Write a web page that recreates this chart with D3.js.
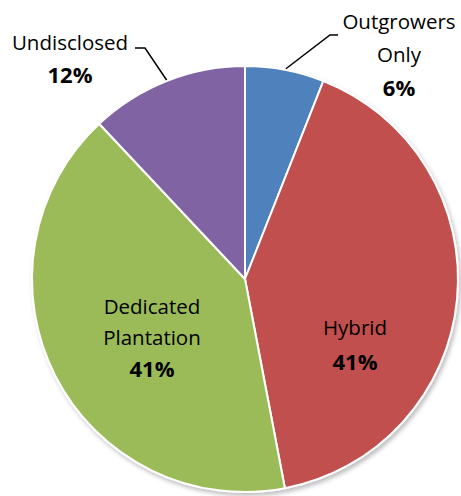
<!DOCTYPE html>
<html>
<head>
<meta charset="utf-8">
<script src="https://cdn.jsdelivr.net/npm/d3@7"></script>
<style>
  html, body { margin: 0; padding: 0; background: #fff; }
  svg { display: block; font-family: "Open Sans", "Noto Sans", sans-serif; }
</style>
</head>
<body>
<svg id="chart" width="461" height="496"></svg>
<script>
// Plantation model shares (percent), clockwise from 12 o'clock
const categories = ["Outgrowers Only", "Hybrid", "Dedicated Plantation", "Undisclosed"];
const values = [6, 41, 41, 12];
const colors = ["#4F81BD", "#C0504D", "#9BBB59", "#8064A2"];
const labelLines = [["Outgrowers", "Only"], ["Hybrid"], ["Dedicated", "Plantation"], ["Undisclosed"]];

const svg = d3.select("#chart");
const cx = 245, cy = 279, r = 213;

const defs = svg.append("defs");
const f = defs.append("filter").attr("id", "shadow")
  .attr("x", "-10%").attr("y", "-10%").attr("width", "120%").attr("height", "120%");
f.append("feDropShadow").attr("dx", 2).attr("dy", 3).attr("stdDeviation", 2)
  .attr("flood-color", "#000").attr("flood-opacity", 0.25);

const data = categories.map((c, i) => ({ name: c, value: values[i], color: colors[i], lines: labelLines[i] }));

const pie = d3.pie().sort(null).value(d => d.value);
const arcs = pie(data);
const arc = d3.arc().innerRadius(0).outerRadius(r);

const g = svg.append("g").attr("transform", `translate(${cx},${cy})`);

g.append("g").attr("filter", "url(#shadow)")
  .selectAll("path").data(arcs).join("path")
  .attr("d", arc)
  .attr("fill", d => d.data.color)
  .attr("stroke", "#fff")
  .attr("stroke-width", 2)
  .attr("stroke-linejoin", "round");

// Label placement: inside for the large slices, outside with leaders for the small ones
const labelPos = [
  { x: 399 - cx, y: 22 - cy, lh: 33 },
  { x: 355 - cx, y: 328 - cy, lh: 34 },
  { x: 152 - cx, y: 307 - cy, lh: 31 },
  { x: 70 - cx, y: 43 - cy, lh: 32 }
];

arcs.forEach((a, i) => {
  const p = labelPos[i];
  const t = g.append("text")
    .attr("text-anchor", "middle")
    .attr("fill", "#000")
    .attr("font-size", 20.5);
  a.data.lines.forEach((ln, k) => {
    t.append("tspan").attr("x", p.x).attr("y", p.y + k * p.lh).attr("dy", "0.35em").text(ln);
  });
  t.append("tspan").attr("x", p.x).attr("y", p.y + a.data.lines.length * p.lh)
    .attr("dy", "0.35em").attr("font-weight", "bold").attr("font-size", 22)
    .text(d3.format(".0f")(a.data.value) + "%");
});

// Leader lines for outside labels, ending on the slice edge at its mid-angle
const leader = d3.line();
function edgePoint(a, frac) {
  const ang = a.startAngle + (a.endAngle - a.startAngle) * frac;
  return [Math.sin(ang) * r, -Math.cos(ang) * r];
}
const outer0 = edgePoint(arcs[0], 0.5);
g.append("path")
  .attr("d", leader([[338 - cx, 35 - cy], [330 - cx, 35 - cy], [outer0[0] + 1, outer0[1] - 1]]))
  .attr("fill", "none").attr("stroke", "#000").attr("stroke-width", 1.5);
const outer3 = edgePoint(arcs[3], 0.5);
g.append("path")
  .attr("d", leader([[135 - cx, 48 - cy], [145 - cx, 48 - cy], [outer3[0], outer3[1] - 1]]))
  .attr("fill", "none").attr("stroke", "#000").attr("stroke-width", 1.5);
</script>
</body>
</html>
